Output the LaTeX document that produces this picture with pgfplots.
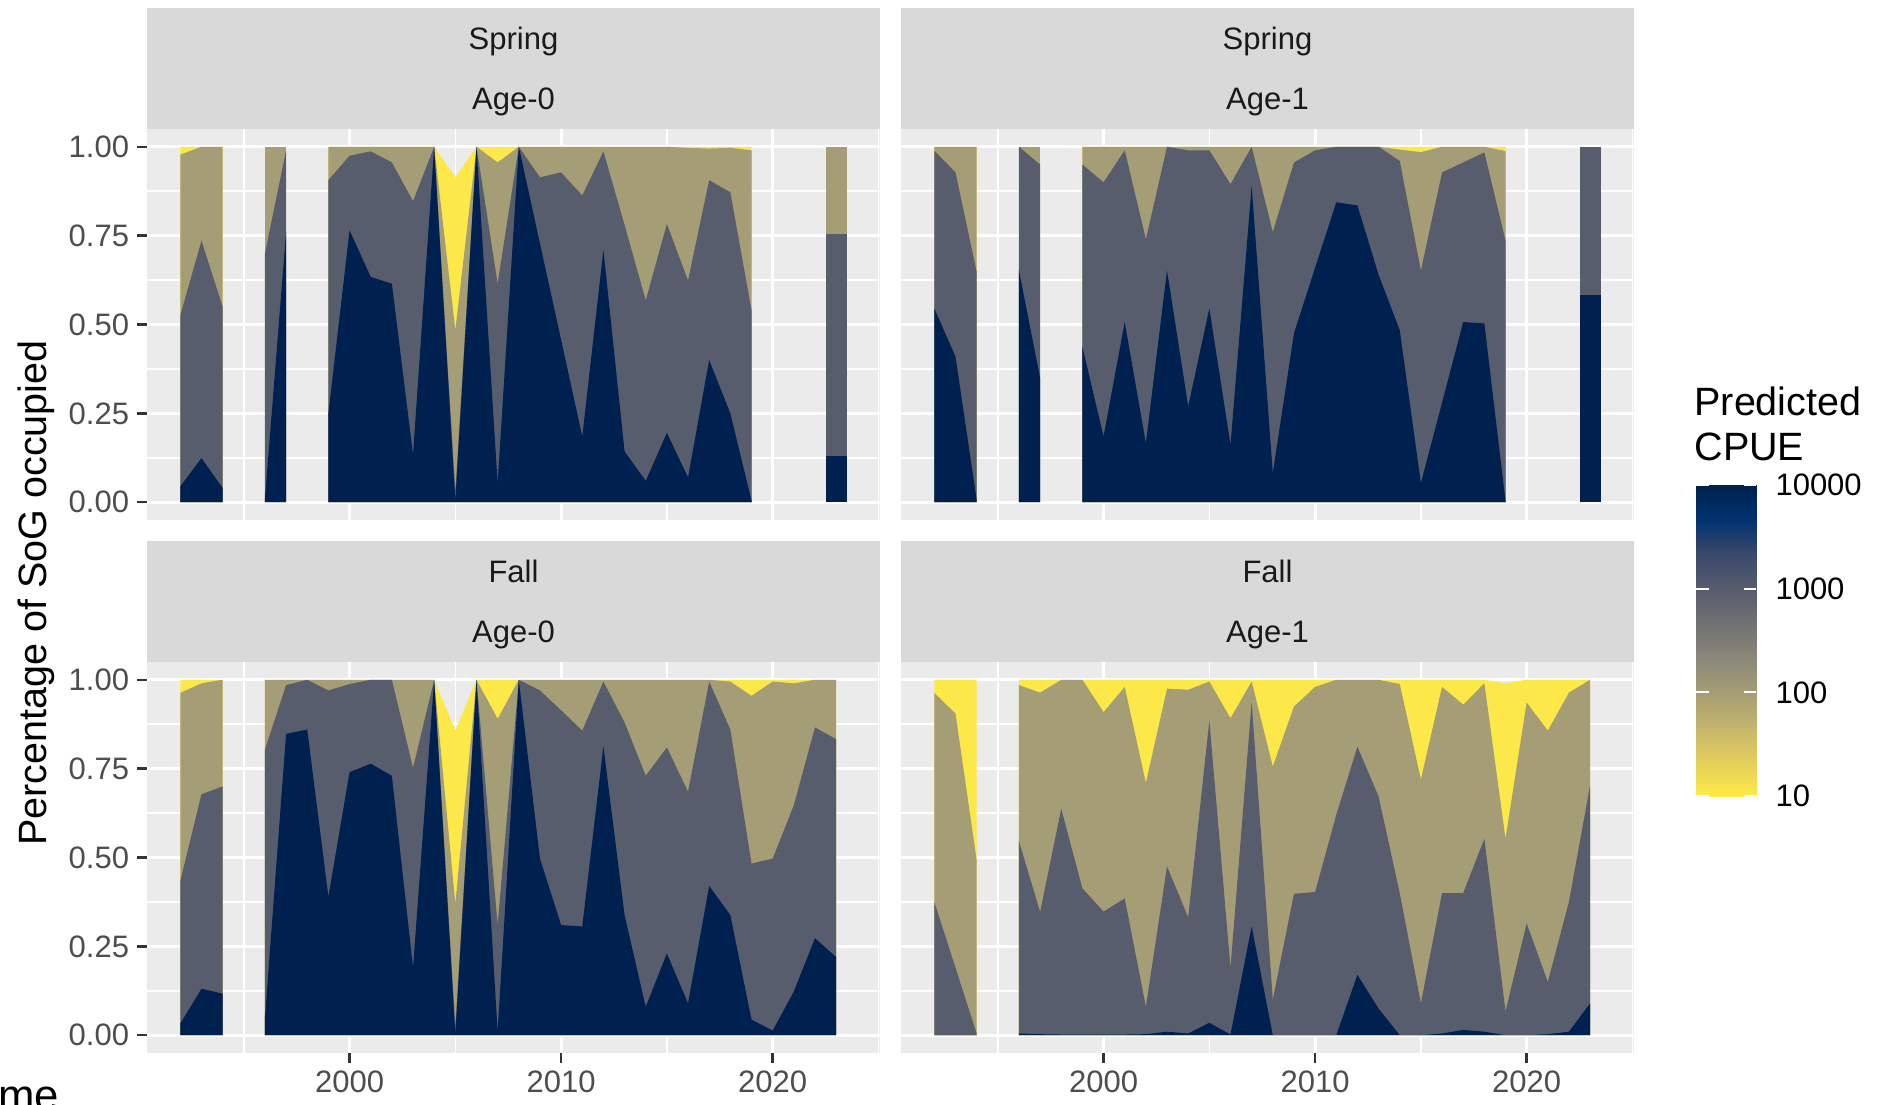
\documentclass[border=0pt]{standalone}
\usepackage{fontspec}
\setmainfont{Liberation Sans}
\usepackage{pgfplots}
\pgfplotsset{compat=1.18}
\usepackage{pgfplotstable}

\definecolor{cNav}{HTML}{002050}
\definecolor{cSla}{HTML}{585D6E}
\definecolor{cKha}{HTML}{A59D76}
\definecolor{cYel}{HTML}{FDE84A}
\definecolor{cBg}{HTML}{EBEBEB}
\definecolor{cStrip}{HTML}{D9D9D9}
\definecolor{cTick}{HTML}{333333}
\definecolor{cLab}{HTML}{4D4D4D}
\definecolor{cStripTxt}{HTML}{1A1A1A}

% Spring Age-0
\pgfplotstableread{
yr b1 b2 b3 top
1992 0.045 0.526 0.978 1
1993 0.124 0.736 1 1
1994 0.040 0.550 1 1
1996 0.010 0.700 1 1
1997 0.760 0.990 1 1
1999 0.250 0.906 1 1
2000 0.765 0.975 1 1
2001 0.634 0.987 1 1
2002 0.615 0.956 1 1
2003 0.134 0.847 1 1
2004 1.000 1.000 1 1
2005 0.005 0.030 0.484 0.914
2006 1.000 1.000 1 1
2007 0.054 0.615 0.956 1
2008 1.000 1.000 1 1
2009 0.728 0.914 1 1
2010 0.457 0.928 1 1
2011 0.185 0.863 1 1
2012 0.710 0.987 1 1
2013 0.143 0.780 1 1
2014 0.060 0.568 1 1
2015 0.195 0.783 1 1
2016 0.070 0.624 0.997 1
2017 0.400 0.906 0.995 1
2018 0.250 0.872 0.997 1
2019 0.005 0.540 0.990 1
2022.5 0.130 0.755 1 1
2023.5 0.130 0.755 1 1
}\tTL

% Spring Age-1
\pgfplotstableread{
yr b1 b2 b3 top
1992 0.545 0.989 1 1
1993 0.410 0.928 1 1
1994 0.007 0.648 1 1
1996 0.652 1.000 1 1
1997 0.350 0.950 1 1
1999 0.437 0.950 1 1
2000 0.185 0.900 1 1
2001 0.507 0.990 1 1
2002 0.166 0.740 1 1
2003 0.652 1.000 1 1
2004 0.270 0.990 1 1
2005 0.545 0.990 1 1
2006 0.162 0.895 1 1
2007 0.890 1.000 1 1
2008 0.082 0.760 1 1
2009 0.475 0.956 1 1
2010 0.660 0.990 1 1
2011 0.844 1.000 1 1
2012 0.835 1.000 1 1
2013 0.640 1.000 1 1
2014 0.484 0.960 0.992 1
2015 0.054 0.652 0.985 1
2016 0.280 0.928 1 1
2017 0.507 0.956 1 1
2018 0.503 0.984 1 1
2019 0.003 0.736 0.988 1
2022.5 0.582 1 1 1
2023.5 0.582 1 1 1
}\tTR

% Fall Age-0
\pgfplotstableread{
yr b1 b2 b3 top
1992 0.033 0.434 0.963 1
1993 0.131 0.678 0.990 1
1994 0.117 0.700 1 1
1996 0.050 0.804 1 1
1997 0.848 0.985 1 1
1998 0.860 1.000 1 1
1999 0.390 0.970 1 1
2000 0.740 0.988 1 1
2001 0.764 1.000 1 1
2002 0.730 1.000 1 1
2003 0.190 0.752 1 1
2004 1.000 1.000 1 1
2005 0.003 0.025 0.370 0.857
2006 1.000 1.000 1 1
2007 0.010 0.310 0.890 1
2008 1.000 1.000 1 1
2009 0.497 0.970 1 1
2010 0.310 0.914 1 1
2011 0.306 0.857 1 1
2012 0.813 0.995 1 1
2013 0.338 0.880 1 1
2014 0.080 0.730 1 1
2015 0.230 0.810 1 1
2016 0.090 0.685 1 1
2017 0.420 0.995 1 1
2018 0.338 0.860 0.995 1
2019 0.044 0.483 0.955 1
2020 0.013 0.497 0.995 1
2021 0.123 0.647 0.990 1
2022 0.273 0.866 1 1
2023 0.220 0.833 1 1
}\tBL

% Fall Age-1
\pgfplotstableread{
yr b1 b2 b3 top
1992 0.000 0.375 0.963 1
1993 0.000 0.190 0.905 1
1994 0.000 0.005 0.493 1
1996 0.005 0.546 0.985 1
1997 0.003 0.347 0.964 1
1998 0.002 0.637 1.000 1
1999 0.002 0.413 1.000 1
2000 0.002 0.348 0.909 1
2001 0.002 0.385 0.980 1
2002 0.003 0.080 0.710 1
2003 0.010 0.475 0.975 1
2004 0.005 0.332 0.972 1
2005 0.035 0.885 0.995 1
2006 0.002 0.190 0.892 1
2007 0.306 0.937 0.995 1
2008 0.000 0.100 0.756 1
2009 0.000 0.398 0.925 1
2010 0.000 0.403 0.980 1
2011 0.000 0.620 1.000 1
2012 0.170 0.812 1 1
2013 0.075 0.672 1 1
2014 0.000 0.400 0.988 1
2015 0.000 0.090 0.720 1
2016 0.005 0.400 0.980 1
2017 0.015 0.400 0.930 1
2018 0.010 0.553 0.990 1
2019 0.000 0.067 0.553 0.99
2020 0.000 0.315 0.936 1
2021 0.003 0.150 0.857 1
2022 0.010 0.376 0.964 1
2023 0.090 0.703 1.000 1
}\tBR

\newcommand{\blk}[3]{%
 \addplot[fill=cYel, draw=none, restrict x to domain=#2:#3] table[x=yr,y=top]{#1} \closedcycle;
 \addplot[fill=cKha, draw=none, restrict x to domain=#2:#3] table[x=yr,y=b3]{#1} \closedcycle;
 \addplot[fill=cSla, draw=none, restrict x to domain=#2:#3] table[x=yr,y=b2]{#1} \closedcycle;
 \addplot[fill=cNav, draw=none, restrict x to domain=#2:#3] table[x=yr,y=b1]{#1} \closedcycle;
}

\pgfplotsset{
 panel/.style={
  scale only axis, width=293.2pt, height=156.4pt,
  anchor=north west,
  xmin=1990.425, xmax=2025.075, ymin=-0.05, ymax=1.05,
  axis background/.style={fill=cBg},
  axis line style={draw=none},
  grid=both,
  major grid style={white, line width=1.2pt},
  minor grid style={white, line width=0.6pt},
  xtick={2000,2010,2020}, minor xtick={1995,2005,2015,2025},
  ytick={0,0.25,0.5,0.75,1}, minor ytick={0.125,0.375,0.625,0.875},
  tick align=outside, major tick length=3.9pt, minor tick length=0pt,
  tick style={color=cTick, line width=1pt},
  xtick pos=bottom, ytick pos=left,
  ticklabel style={font=\fontsize{12.4}{14}\selectfont, text=cLab, inner sep=0pt},
  /pgf/number format/assume math mode=true,
  scaled x ticks=false, scaled y ticks=false,
  xticklabel style={/pgf/number format/1000 sep={}, anchor=north, yshift=-3.1pt},
  yticklabel style={/pgf/number format/fixed, /pgf/number format/fixed zerofill, /pgf/number format/precision=2, anchor=east, xshift=-3.1pt},
 },
 noxt/.style={xticklabels={}, xtick style={draw=none}},
 noyt/.style={yticklabels={}, ytick style={draw=none}},
}

\newcommand{\striptext}[4]{% xleft, ytop, line1, line2
 \fill[cStrip] (#1,#2) rectangle ++(293.2pt,-48.4pt);
 \node[font=\fontsize{12.4}{14}\selectfont, text=cStripTxt, anchor=base] at ([xshift=146.6pt,yshift=-16.6pt]#1,#2) {#3};
 \node[font=\fontsize{12.4}{14}\selectfont, text=cStripTxt, anchor=base] at ([xshift=146.6pt,yshift=-40.4pt]#1,#2) {#4};
}

\begin{document}
\begin{tikzpicture}
\useasboundingbox (0,0) rectangle (756.4pt,-441.6pt);

\striptext{58.8pt}{-3.2pt}{Spring}{Age-0}
\striptext{360.4pt}{-3.2pt}{Spring}{Age-1}
\striptext{58.8pt}{-216.4pt}{Fall}{Age-0}
\striptext{360.4pt}{-216.4pt}{Fall}{Age-1}

\begin{axis}[panel, noxt, at={(58.8pt,-51.6pt)}]
\blk{\tTL}{1992}{1994}
\blk{\tTL}{1996}{1997}
\blk{\tTL}{1999}{2019}
\blk{\tTL}{2022.5}{2023.5}
\end{axis}

\begin{axis}[panel, noxt, noyt, at={(360.4pt,-51.6pt)}]
\blk{\tTR}{1992}{1994}
\blk{\tTR}{1996}{1997}
\blk{\tTR}{1999}{2019}
\blk{\tTR}{2022.5}{2023.5}
\end{axis}

\begin{axis}[panel, at={(58.8pt,-264.8pt)}]
\blk{\tBL}{1992}{1994}
\blk{\tBL}{1996}{2023}
\end{axis}

\begin{axis}[panel, noyt, at={(360.4pt,-264.8pt)}]
\blk{\tBR}{1992}{1994}
\blk{\tBR}{1996}{2023}
\end{axis}

% colour bar
\begin{axis}[at={(678.4pt,-318.4pt)}, anchor=south west, scale only axis,
  width=24pt, height=124.4pt, xmin=0, xmax=1, ymode=log, ymin=10, ymax=10000,
  axis line style={draw=none}, xtick=\empty,
  ytick={10,100,1000,10000}, yticklabels={10,100,1000,10000},
  ytick pos=both, yticklabel pos=right, tick align=inside,
  major tick length=5pt, minor tick length=0pt, minor ytick={},
  tick style={white, line width=0.8pt},
  axis on top,
  yticklabel style={font=\fontsize{12.4}{14}\selectfont, text=black, anchor=west, inner sep=0pt, xshift=7.6pt},
  colormap={civ}{rgb255=(255,234,70) rgb255=(228,207,91) rgb255=(196,181,108) rgb255=(166,157,117) rgb255=(138,135,121) rgb255=(112,113,115) rgb255=(87,92,109) rgb255=(57,72,107) rgb255=(0,51,111) rgb255=(0,32,77)},
  point meta min=1, point meta max=4]
\addplot[surf, shader=interp, point meta=explicit] coordinates {
(0,10) [1] (1,10) [1]

(0,10000) [4] (1,10000) [4]
};
\end{axis}

\node[font=\fontsize{15.8}{18}\selectfont, anchor=base west, inner sep=0pt] at (677.6pt,-166.2pt) {Predicted};
\node[font=\fontsize{15.8}{18}\selectfont, anchor=base west, inner sep=0pt] at (677.6pt,-184pt) {CPUE};

\node[font=\fontsize{15.8}{18}\selectfont, rotate=90, inner sep=0pt] at (14.4pt,-237.2pt) {Percentage of SoG occupied};

\node[font=\fontsize{17.5}{20}\selectfont, anchor=north west, inner sep=0pt] at (-1pt,-434.5pt) {me};
\end{tikzpicture}
\end{document}
